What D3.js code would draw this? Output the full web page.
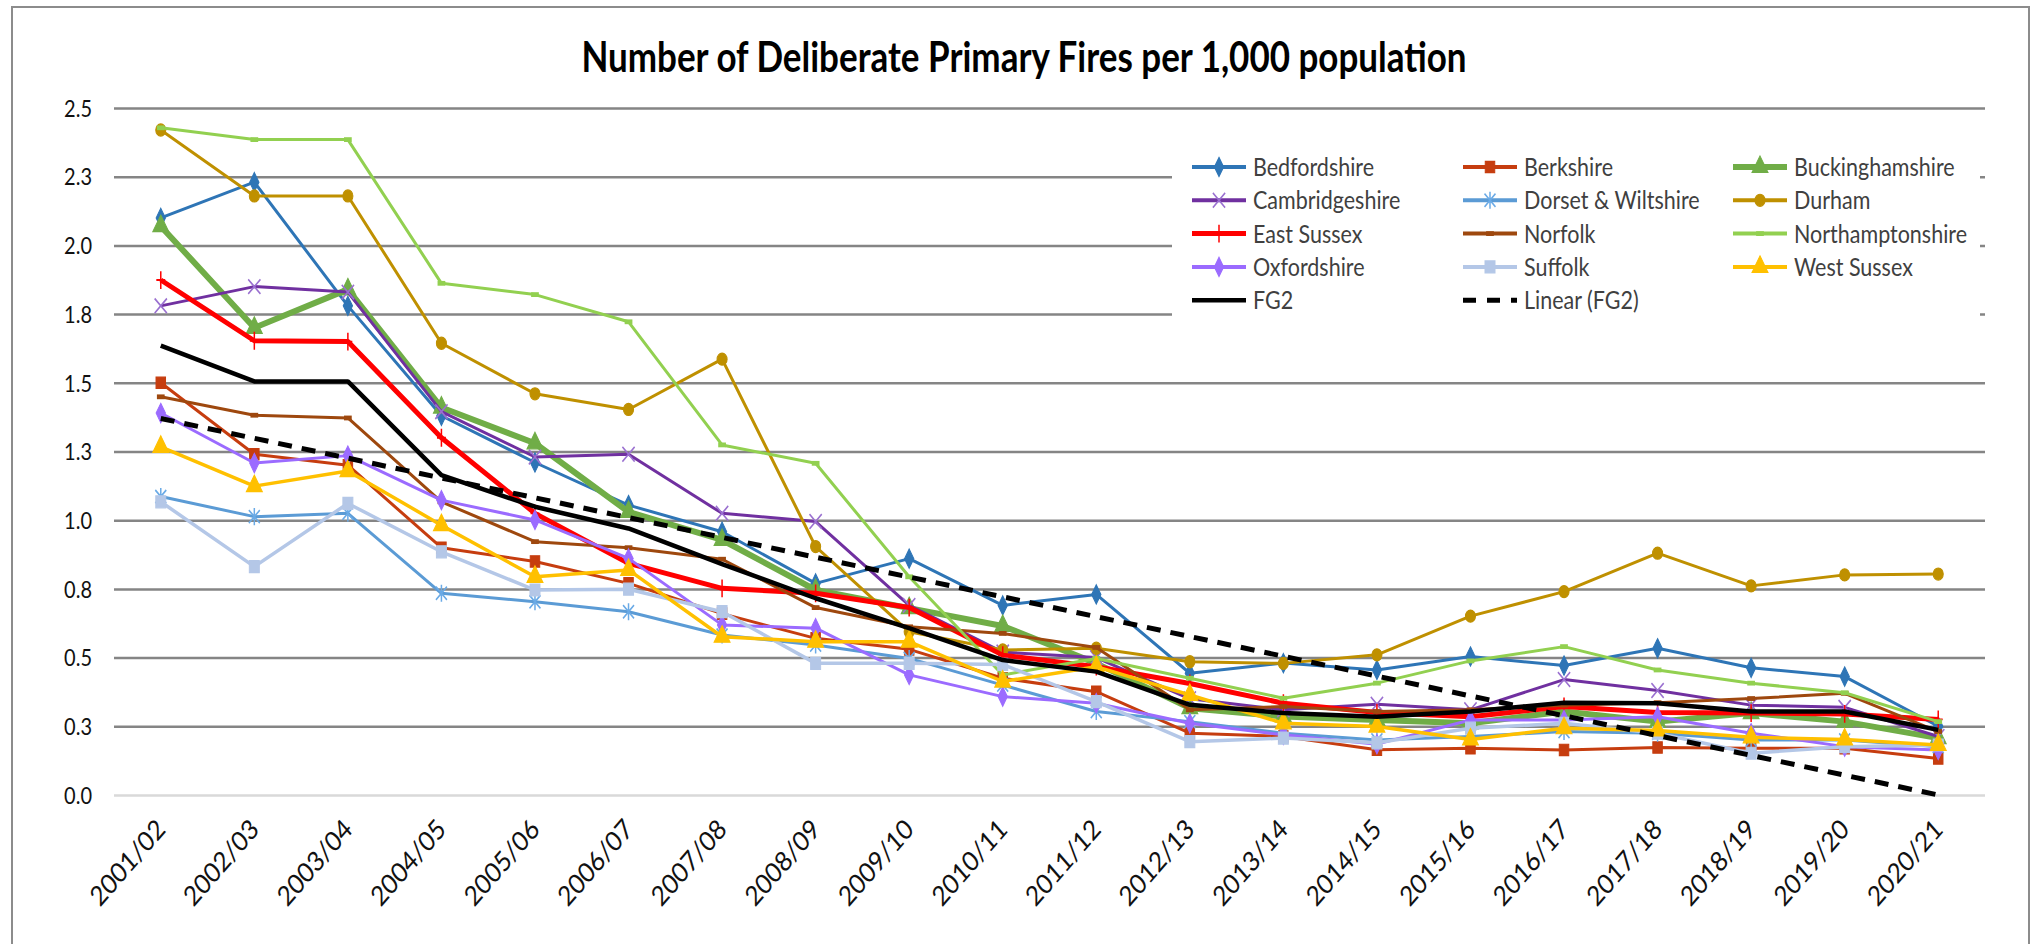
<!DOCTYPE html>
<html>
<head>
<meta charset="utf-8">
<script src="https://cdn.jsdelivr.net/npm/d3@7"></script>
<style>
  body { margin: 0; background: #fff; }
  text { font-family: Lato, "Open Sans", "DejaVu Sans Condensed", sans-serif; }
</style>
</head>
<body>
<div id="chart"></div>
<script>

    // Data (per 1,000 population).

    var years = ['2001/02', '2002/03', '2003/04', '2004/05', '2005/06', '2006/07', '2007/08',
        '2008/09', '2009/10', '2010/11', '2011/12', '2012/13', '2013/14', '2014/15',
        '2015/16', '2016/17', '2017/18', '2018/19', '2019/20', '2020/21']

    var bedfordshire     = [2.10, 2.23, 1.78, 1.38, 1.21, 1.055, 0.958, 0.77, 0.86, 0.69, 0.73, 0.443, 0.48, 0.455, 0.504, 0.471, 0.534, 0.463, 0.431, 0.25]
    var berkshire        = [1.50, 1.24, 1.20, 0.90, 0.85, 0.77, 0.66, 0.57, 0.53, 0.425, 0.376, 0.225, 0.213, 0.165, 0.17, 0.164, 0.173, 0.17, 0.17, 0.133]
    var buckinghamshire  = [2.07, 1.70, 1.84, 1.41, 1.28, 1.03, 0.928, 0.746, 0.68, 0.615, 0.479, 0.316, 0.286, 0.273, 0.261, 0.304, 0.267, 0.298, 0.267, 0.207]
    var cambridgeshire   = [1.78, 1.85, 1.83, 1.395, 1.23, 1.24, 1.025, 0.995, 0.69, 0.52, 0.50, 0.35, 0.31, 0.33, 0.31, 0.42, 0.38, 0.327, 0.319, 0.213]
    var dorsetWiltshire  = [1.086, 1.013, 1.025, 0.734, 0.703, 0.667, 0.582, 0.546, 0.497, 0.40, 0.304, 0.267, 0.225, 0.20, 0.213, 0.231, 0.225, 0.20, 0.20, 0.176]
    var durham           = [2.42, 2.18, 2.18, 1.644, 1.46, 1.403, 1.586, 0.904, 0.594, 0.528, 0.534, 0.485, 0.479, 0.51, 0.651, 0.74, 0.88, 0.761, 0.801, 0.804]
    var eastSussex       = [1.874, 1.653, 1.65, 1.30, 1.025, 0.843, 0.752, 0.734, 0.682, 0.509, 0.467, 0.406, 0.334, 0.30, 0.285, 0.322, 0.30, 0.298, 0.295, 0.275]
    var norfolk          = [1.449, 1.382, 1.372, 1.067, 0.922, 0.90, 0.858, 0.682, 0.612, 0.588, 0.537, 0.31, 0.322, 0.304, 0.31, 0.327, 0.336, 0.351, 0.37, 0.231]
    var northamptonshire = [2.428, 2.385, 2.385, 1.862, 1.821, 1.722, 1.274, 1.207, 0.794, 0.437, 0.497, 0.425, 0.352, 0.407, 0.488, 0.54, 0.455, 0.407, 0.372, 0.267]
    var oxfordshire      = [1.39, 1.208, 1.235, 1.073, 1.001, 0.861, 0.619, 0.607, 0.437, 0.358, 0.334, 0.261, 0.219, 0.185, 0.273, 0.273, 0.285, 0.225, 0.176, 0.164]
    var suffolk          = [1.067, 0.831, 1.061, 0.885, 0.746, 0.749, 0.667, 0.479, 0.479, 0.475, 0.34, 0.194, 0.207, 0.19, 0.243, 0.261, 0.225, 0.152, 0.176, 0.182]
    var westSussex       = [1.267, 1.124, 1.179, 0.982, 0.794, 0.819, 0.576, 0.558, 0.558, 0.413, 0.467, 0.364, 0.261, 0.249, 0.202, 0.243, 0.235, 0.21, 0.202, 0.182]
    var fg2              = [1.635, 1.505, 1.505, 1.164, 1.049, 0.97, 0.84, 0.716, 0.607, 0.491, 0.449, 0.328, 0.298, 0.285, 0.304, 0.336, 0.334, 0.304, 0.304, 0.237]

    // Linear (FG2) trendline, its two ends.
    var linearYears = ['2001/02', '2020/21']
    var linearFG2   = [1.37, 0.0]

    var yTicks      = [0, 0.25, 0.5, 0.75, 1, 1.25, 1.5, 1.75, 2, 2.25, 2.5]
    var yTickLabels = ['0.0', '0.3', '0.5', '0.8', '1.0', '1.3', '1.5', '1.8', '2.0', '2.3', '2.5']

    var title = 'Number of Deliberate Primary Fires per 1,000 population'


    // Custom stroked marker shapes (x, asterisk, plus, dash).

    var symTimes = { draw: function(c, s) { var r = Math.sqrt(s) / 2
        c.moveTo(-r, -r); c.lineTo(r, r); c.moveTo(r, -r); c.lineTo(-r, r) } }
    var symAsterisk = { draw: function(c, s) { var r = Math.sqrt(s) / 2
        c.moveTo(-r, -r); c.lineTo(r, r); c.moveTo(r, -r); c.lineTo(-r, r)
        c.moveTo(0, -r * 1.3); c.lineTo(0, r * 1.3) } }
    var symPlus = { draw: function(c, s) { var r = Math.sqrt(s) / 2
        c.moveTo(0, -r); c.lineTo(0, r); c.moveTo(-r * 0.6, 0); c.lineTo(r * 0.6, 0) } }
    var symDash = { draw: function(c, s) { var r = Math.sqrt(s) / 2
        c.moveTo(-r, 0); c.lineTo(r, 0) } }

    // Series styling (order = drawing order = legend order).
    var series = [
        { name: 'Bedfordshire',       values: bedfordshire,     color: '#2e75b6', width: 3,   marker: d3.symbolDiamond, size: 75,  fill: true },
        { name: 'Berkshire',          values: berkshire,        color: '#c63d0f', width: 3,   marker: d3.symbolSquare,  size: 90,  fill: true },
        { name: 'Buckinghamshire',    values: buckinghamshire,  color: '#70ad47', width: 6,   marker: d3.symbolTriangle, size: 110, fill: true },
        { name: 'Cambridgeshire',     values: cambridgeshire,   color: '#7030a0', width: 3,   marker: symTimes,    size: 150, fill: false, mcolor: '#9a70d0' },
        { name: 'Dorset & Wiltshire', values: dorsetWiltshire,  color: '#5b9bd5', width: 3,   marker: symAsterisk, size: 120, fill: false, mcolor: '#6aaae6' },
        { name: 'Durham',             values: durham,           color: '#bf9000', width: 3,   marker: d3.symbolCircle, size: 80, fill: true },
        { name: 'East Sussex',        values: eastSussex,       color: '#ff0000', width: 5,   marker: symPlus,     size: 220, fill: false },
        { name: 'Norfolk',            values: norfolk,          color: '#9e480e', width: 3,   marker: symDash,     size: 60,  fill: false, mwidth: 4 },
        { name: 'Northamptonshire',   values: northamptonshire, color: '#92d050', width: 3,   marker: symDash,     size: 60,  fill: false, mwidth: 4 },
        { name: 'Oxfordshire',        values: oxfordshire,      color: '#9b6bff', width: 3,   marker: d3.symbolDiamond, size: 75,  fill: true },
        { name: 'Suffolk',            values: suffolk,          color: '#b4c7e7', width: 3.5, marker: d3.symbolSquare,  size: 100, fill: true },
        { name: 'West Sussex',        values: westSussex,       color: '#ffc000', width: 3.5, marker: d3.symbolTriangle, size: 110, fill: true },
        { name: 'FG2',                values: fg2,              color: '#000000', width: 4.5, marker: null }
    ]

    var stretch = 'scale(1,1.15)' // text in the original is drawn a little tall


    // Main SVG.

    var W = 2037, H = 944
    var plot = { left: 114, right: 1985, top: 108, bottom: 795 }

    var svg = d3.select('#chart').append('svg')
        .attr('width', W)
        .attr('height', H)

    svg.append('rect') // chart frame
        .attr('x', 12).attr('y', 7)
        .attr('width', 2017).attr('height', 960)
        .attr('fill', '#fff')
        .attr('stroke', '#8c8c8c')
        .attr('stroke-width', 2)

    svg.append('text')
        .attr('transform', 'translate(1024,72) scale(1,1.2)')
        .attr('text-anchor', 'middle')
        .style('font-weight', 'bold')
        .style('font-size', '35px')
        .attr('fill', '#000')
        .text(title)

    var x = d3.scaleBand()
        .domain(years)
        .range([plot.left, plot.right])
    var xc = function(d) { return x(d) + x.bandwidth() / 2 }

    var y = d3.scaleLinear()
        .domain([0, 2.5])
        .range([plot.bottom, plot.top])

    // Gridlines
    var grid = svg.append('g')
        .attr('transform', 'translate(' + plot.left + ',0)')
        .call(d3.axisLeft(y).tickValues(yTicks).tickSize(-(plot.right - plot.left)).tickFormat(''))
    grid.select('.domain').remove()
    grid.selectAll('line')
        .attr('stroke', function(d) { return d === 0 ? '#d9d9d9' : '#858585' })
        .attr('stroke-width', 2.5)

    // Y axis labels
    var yAxis = svg.append('g')
        .attr('transform', 'translate(' + plot.left + ',0)')
        .call(d3.axisLeft(y).tickValues(yTicks).tickSize(0)
            .tickFormat(function(d, i) { return yTickLabels[i] }))
    yAxis.select('.domain').remove()
    yAxis.selectAll('text')
        .attr('x', 0).attr('dy', '0.36em')
        .attr('transform', 'translate(-22,0) ' + stretch)
        .style('font-size', '20px')
        .attr('fill', '#111')

    // X axis labels
    var xAxis = svg.append('g')
        .attr('transform', 'translate(0,' + plot.bottom + ')')
        .call(d3.axisBottom(x).tickSize(0))
    xAxis.select('.domain').remove()
    xAxis.selectAll('text')
        .attr('x', 0).attr('y', 0).attr('dy', 0)
        .attr('transform', 'translate(6,36) ' + stretch + ' rotate(-45)')
        .style('text-anchor', 'end')
        .style('font-size', '24px')
        .attr('fill', '#111')

    // Legend background (hides the gridlines behind it)
    svg.append('rect')
        .attr('x', 1172).attr('y', 140)
        .attr('width', 808).attr('height', 192)
        .attr('fill', '#fff')


    // Lines and markers.

    var line = d3.line()
        .x(function(d, i) { return xc(years[i]) })
        .y(function(d) { return y(d) })

    var markerPath = function(s) { return d3.symbol().type(s.marker).size(s.size)() }

    var drawMarkers = function(sel, s, pts) {
        sel.selectAll('path.m')
            .data(pts)
            .enter()
            .append('path')
            .attr('class', 'm')
            .attr('d', markerPath(s))
            .attr('transform', function(p) { return 'translate(' + p[0] + ',' + p[1] + ') scale(1,1.2)' })
            .attr('fill', s.fill ? s.color : 'none')
            .attr('stroke', s.fill ? s.color : (s.mcolor || s.color))
            .attr('stroke-width', s.fill ? 1 : (s.mwidth || 1.5))
    }

    var lines = svg.append('g')

    series.forEach(function(s) {
        var g = lines.append('g').attr('class', 'series')
        g.append('path')
            .attr('d', line(s.values))
            .attr('fill', 'none')
            .attr('stroke', s.color)
            .attr('stroke-width', s.width)
            .attr('stroke-linejoin', 'round')
        if (s.marker) {
            drawMarkers(g, s, s.values.map(function(v, i) { return [xc(years[i]), y(v)] }))
        }
    })

    // Linear (FG2) trendline
    lines.append('path')
        .attr('d', d3.line()
            .x(function(d, i) { return xc(linearYears[i]) })
            .y(function(d) { return y(d) })(linearFG2))
        .attr('fill', 'none')
        .attr('stroke', '#000')
        .attr('stroke-width', 5)
        .attr('stroke-dasharray', '14,10')


    // Legend.

    var legendItems = series.map(function(s) { return s })
        .concat([{ name: 'Linear (FG2)', color: '#000', width: 5, dashed: true }])
    var colX = [1192, 1463, 1733]
    var rowY0 = 167, rowH = 33.3, sampleW = 54

    var legend = svg.append('g')
    legendItems.forEach(function(s, i) {
        var lx = colX[i % 3], ly = rowY0 + Math.floor(i / 3) * rowH
        var g = legend.append('g')
        g.append('line')
            .attr('x1', lx).attr('x2', lx + sampleW)
            .attr('y1', ly).attr('y2', ly)
            .attr('stroke', s.color)
            .attr('stroke-width', s.dashed ? 5 : Math.max(s.width, 4))
            .attr('stroke-dasharray', s.dashed ? '13,11' : null)
        if (s.marker) drawMarkers(g, s, [[lx + sampleW / 2, ly]])
        g.append('text')
            .attr('transform', 'translate(' + (lx + sampleW + 7) + ',' + ly + ') ' + stretch)
            .attr('dy', '0.36em')
            .style('font-size', '21.5px')
            .attr('fill', '#404040')
            .text(s.name)
    })

</script>
</body>
</html>
